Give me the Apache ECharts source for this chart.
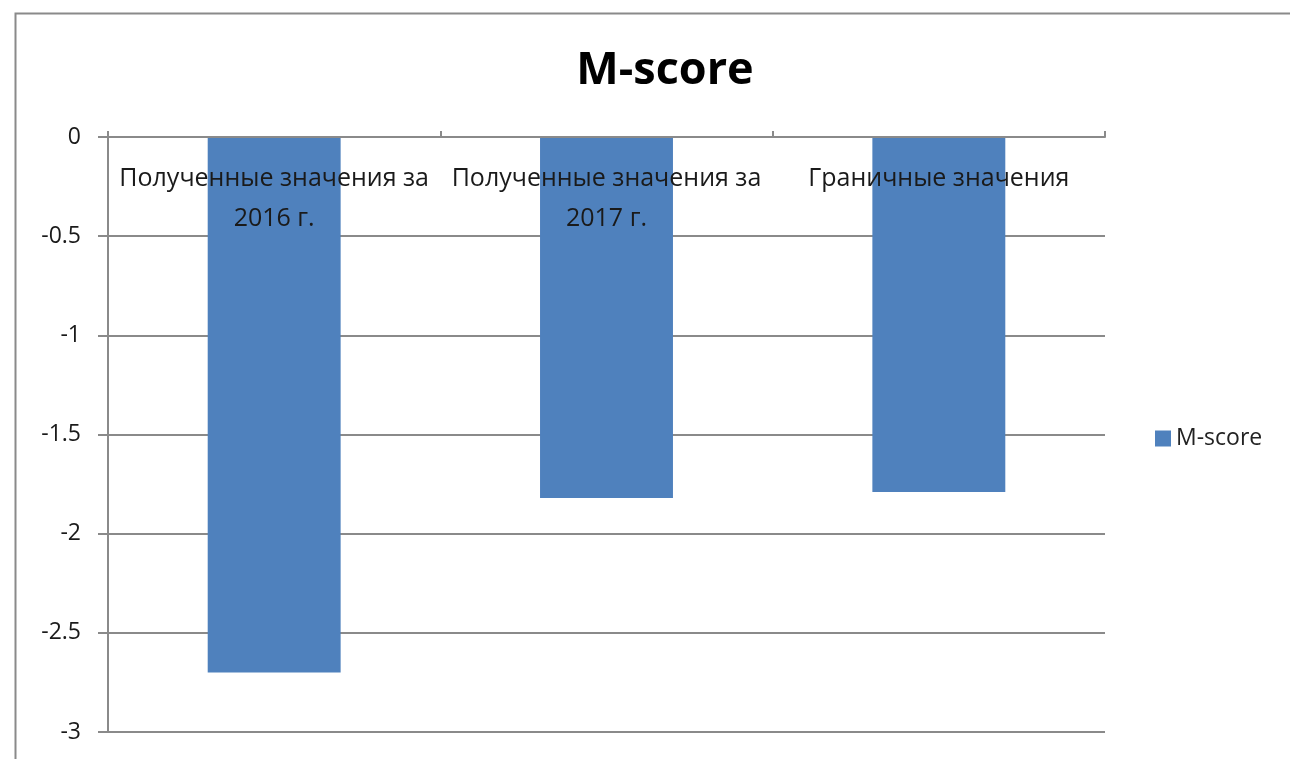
<!DOCTYPE html>
<html>
<head>
<meta charset="utf-8">
<script src="https://cdn.jsdelivr.net/npm/echarts@6/dist/echarts.min.js"></script>
<style>
html,body{margin:0;padding:0;background:#fff;}
#chart{width:1290px;height:759px;}
</style>
</head>
<body>
<div id="chart"></div>
<script>
var categories = ['Полученные значения за 2016 г.', 'Полученные значения за 2017 г.', 'Граничные значения'];
var seriesName = 'M-score';
var values = [-2.7, -1.82, -1.79];
var yTicks = { min: -3, max: 0, interval: 0.5 };

var chart = echarts.init(document.getElementById('chart'));
var font = '"Open Sans", "Liberation Sans", sans-serif';
chart.setOption({
  animation: false,
  backgroundColor: '#fff',
  graphic: [{
    type: 'rect', left: 13, top: 11, silent: true,
    shape: { width: 1300, height: 800 },
    style: { fill: 'none', stroke: '#8a8a8a', lineWidth: 2 }
  }],
  title: {
    text: 'M-score', left: 660, top: 44, textAlign: 'center',
    textStyle: { fontFamily: font, fontSize: 45, fontWeight: 'bold', color: '#000' }
  },
  legend: {
    data: [seriesName], left: 1150, top: 422, orient: 'vertical',
    icon: 'rect', itemWidth: 16, itemHeight: 16, itemGap: 8,
    textStyle: { fontFamily: font, fontSize: 23, color: '#222' }
  },
  grid: { left: 108, top: 137, right: 185, bottom: 27, containLabel: false },
  xAxis: {
    type: 'category', data: categories, position: 'top', z: 10,
    axisLine: { lineStyle: { color: '#8a8a8a', width: 2 } },
    axisTick: { show: true, alignWithLabel: false, length: 6, lineStyle: { color: '#8a8a8a', width: 2 } },
    axisLabel: {
      inside: true, margin: 22, interval: 0, fontFamily: font, fontSize: 25, color: '#1a1a1a',
      lineHeight: 40, verticalAlign: 'top',
      formatter: function (v) { return v.replace(' за ', ' за\n'); }
    },
    splitLine: { show: false }
  },
  yAxis: {
    type: 'value', min: yTicks.min, max: yTicks.max, interval: yTicks.interval,
    axisLine: { show: true, lineStyle: { color: '#8a8a8a', width: 2 } },
    axisTick: { show: true, length: 10, lineStyle: { color: '#8a8a8a', width: 2 } },
    axisLabel: { margin: 27, fontFamily: font, fontSize: 23, color: '#1a1a1a' },
    splitLine: { show: true, lineStyle: { color: '#8a8a8a', width: 2 } }
  },
  series: [{
    name: seriesName, type: 'bar', data: values, barWidth: '40%',
    itemStyle: { color: '#4F81BD' }, z: 1
  }]
});
</script>
</body>
</html>
